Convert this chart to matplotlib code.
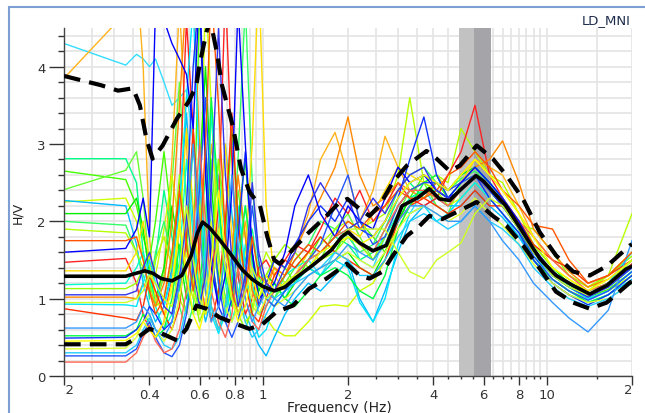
import numpy as np
import matplotlib.pyplot as plt
from matplotlib.patches import Rectangle
from matplotlib.transforms import Bbox, TransformedBbox

# frequency grid of the window curves (Hz)
freq = [0.20, 0.33, 0.36, 0.38, 0.40, 0.42, 0.45, 0.48, 0.51, 0.54, 0.57, 0.60, 0.63, 0.66, 0.70, 0.74,
        0.78, 0.82, 0.87, 0.92, 0.97, 1.03, 1.10, 1.20, 1.30, 1.45, 1.60, 1.80, 2.00, 2.20, 2.45, 2.70,
        3.00, 3.30, 3.70, 4.10, 4.50, 5.00, 5.60, 6.30, 7.00, 8.00, 9.00, 10.5, 12.0, 14.0, 16.5, 20.0]

w1 = [4.30, 4.02,
      4.16, 4.10, 4.00, 4.10, 3.80, 3.50, 3.60, 3.70, 3.00, 2.00, 1.40, 1.90, 2.60, 1.80, 1.20, 1.60, 2.20, 1.40, 1.00,
      0.90, 1.20, 1.00, 1.30, 1.50, 1.30, 1.60, 1.90, 1.50, 1.40, 1.80, 2.20, 2.10, 2.40, 2.20, 2.10,
      2.30, 2.50, 2.30, 2.10, 1.80, 1.50, 1.25, 1.10, 0.98, 1.10, 1.35]
w2 = [3.85, 4.70,
      5.20, 4.00, 1.80, 0.90, 1.40, 2.80, 4.80, 3.00, 1.20, 0.80, 1.60, 3.00, 2.20, 1.30, 0.90, 1.40, 2.00, 1.30, 0.90,
      1.10, 1.40, 1.30, 1.60, 2.10, 2.80, 3.15, 2.60, 2.00, 2.40, 3.10, 2.70, 2.40, 2.50, 2.60, 2.40,
      2.60, 2.80, 2.70, 2.60, 2.20, 1.80, 1.50, 1.30, 1.15, 1.30, 1.60]
w3 = [2.81, 2.81,
      2.50, 1.60, 1.00, 1.50, 2.40, 1.80, 1.10, 1.60, 3.00, 2.20, 1.30, 1.80, 2.80, 1.90, 1.20, 1.00, 1.50, 1.90, 1.30,
      1.00, 0.90, 1.10, 1.30, 1.40, 1.60, 1.80, 1.70, 1.50, 1.60, 1.90, 2.30, 2.50, 2.30, 2.40, 2.30,
      2.50, 2.70, 2.50, 2.30, 2.00, 1.65, 1.35, 1.20, 1.05, 1.15, 1.40]
w4 = [2.65, 2.54,
      2.20, 1.80, 1.50, 2.00, 2.90, 2.00, 1.20, 0.80, 1.40, 4.80, 3.00, 1.50, 1.00, 1.80, 3.20, 2.00, 1.20, 0.90, 1.10,
      1.30, 1.50, 1.40, 1.20, 1.50, 1.80, 1.60, 1.90, 2.00, 1.80, 1.60, 2.00, 2.30, 2.60, 2.50, 2.30,
      2.40, 2.60, 2.40, 2.20, 1.90, 1.60, 1.30, 1.15, 1.02, 1.12, 1.35]
w5 = [2.41, 2.66,
      2.90, 2.30, 1.40, 0.90, 1.30, 2.50, 3.80, 2.20, 1.20, 0.80, 1.50, 2.80, 1.60, 1.00, 1.30, 2.40, 1.80, 1.10, 1.00,
      1.20, 1.00, 1.20, 1.40, 1.60, 1.50, 1.90, 2.10, 1.80, 1.50, 1.70, 2.10, 2.40, 2.50, 2.20, 2.10,
      2.50, 2.60, 2.40, 2.20, 1.95, 1.60, 1.32, 1.18, 1.05, 1.20, 1.45]
w6 = [2.25, 2.30,
      2.00, 1.50, 1.10, 1.30, 1.90, 2.60, 1.90, 1.30, 1.00, 1.80, 5.00, 3.50, 1.40, 0.80, 1.10, 1.70, 1.30, 0.90, 0.80,
      0.75, 0.60, 0.52, 0.52, 0.70, 0.90, 0.92, 0.90, 1.10, 1.20, 1.50, 1.90, 2.20, 2.40, 2.30, 2.20,
      2.30, 2.50, 2.30, 2.10, 1.85, 1.50, 1.25, 1.10, 1.00, 1.10, 1.30]
w7 = [2.27, 2.20,
      1.70, 1.20, 0.90, 0.70, 0.90, 1.40, 2.20, 3.40, 2.00, 1.10, 0.70, 1.00, 1.90, 3.00, 2.10, 1.30, 0.80, 0.60, 0.40,
      0.26, 0.50, 0.80, 1.00, 1.20, 1.10, 1.30, 1.50, 1.00, 0.70, 1.10, 1.60, 2.00, 2.20, 2.30, 2.20,
      2.20, 2.40, 2.20, 2.05, 1.80, 1.50, 1.20, 1.05, 0.95, 1.05, 1.25]
w8 = [2.10, 2.10,
      2.30, 1.90, 1.30, 1.00, 1.40, 2.20, 1.60, 1.00, 1.30, 2.60, 4.00, 2.50, 1.30, 0.90, 1.20, 2.00, 2.80, 1.60, 1.10,
      1.30, 1.20, 1.00, 1.20, 1.40, 1.30, 1.50, 1.60, 1.40, 1.30, 1.60, 2.00, 2.30, 2.40, 2.50, 2.40,
      2.60, 2.70, 2.50, 2.30, 2.00, 1.70, 1.40, 1.20, 1.10, 1.20, 1.50]
w9 = [2.00, 1.95,
      1.60, 1.30, 1.10, 1.60, 2.00, 1.50, 0.90, 0.60, 0.90, 1.70, 2.60, 1.90, 1.20, 0.90, 1.50, 2.80, 4.80, 2.50, 1.40,
      1.20, 1.00, 1.30, 1.50, 1.70, 2.00, 1.90, 1.80, 1.60, 1.70, 2.00, 2.40, 2.60, 2.70, 2.50, 2.40,
      2.55, 2.65, 2.45, 2.25, 1.95, 1.62, 1.32, 1.18, 1.05, 1.15, 1.40]
w10 = [1.90, 1.85,
       1.60, 1.40, 1.20, 1.50, 1.80, 1.40, 1.00, 0.80, 1.20, 2.20, 1.60, 0.90, 0.60, 0.80, 1.40, 1.00, 0.70, 0.80, 1.30,
       1.60, 1.40, 1.20, 1.30, 1.50, 1.70, 1.90, 2.00, 1.90, 2.00, 2.10, 2.60, 3.60, 2.50, 2.60, 2.50,
       3.20, 2.90, 2.60, 2.50, 2.10, 1.70, 1.40, 1.25, 1.10, 1.30, 2.10]
w11 = [1.47, 1.52,
       1.20, 0.80, 0.60, 0.50, 0.70, 1.30, 2.40, 4.60, 3.20, 1.40, 0.80, 1.20, 2.20, 5.00, 2.80, 1.30, 0.80, 1.00, 1.40,
       1.50, 1.30, 1.50, 1.70, 1.60, 1.90, 2.30, 2.10, 2.40, 2.00, 2.20, 2.50, 2.30, 2.20, 2.30, 2.60,
       2.90, 3.50, 2.60, 2.30, 2.00, 1.65, 1.35, 1.20, 1.05, 1.20, 1.45]
w12 = [1.36, 1.36,
       1.60, 2.00, 1.50, 1.00, 0.80, 1.10, 1.90, 3.20, 2.20, 1.20, 0.80, 1.10, 1.80, 3.00, 1.80, 1.00, 1.60, 3.00, 5.20,
       2.20, 1.30, 1.10, 1.30, 1.60, 1.50, 1.70, 1.90, 1.80, 2.10, 2.40, 2.70, 2.60, 2.50, 2.40, 2.30,
       2.50, 2.80, 2.60, 2.40, 2.10, 1.80, 1.50, 1.30, 1.15, 1.30, 1.60]
w13 = [1.18, 1.20,
       1.40, 1.60, 1.30, 0.90, 0.60, 0.80, 1.50, 2.80, 1.80, 1.00, 1.60, 3.40, 2.20, 1.20, 0.70, 1.00, 1.70, 1.20, 0.80,
       0.90, 1.10, 1.30, 1.40, 1.50, 1.60, 1.80, 1.90, 1.70, 1.60, 1.80, 2.10, 2.30, 2.40, 2.40, 2.30,
       2.50, 2.70, 2.50, 2.30, 1.95, 1.60, 1.30, 1.15, 1.00, 1.10, 1.35]
w14 = [1.13, 1.13,
       1.20, 1.40, 1.20, 0.90, 1.00, 1.50, 2.60, 1.80, 1.10, 0.70, 0.90, 1.60, 2.80, 1.90, 1.20, 0.80, 0.60, 0.90, 1.20,
       1.30, 1.50, 1.70, 1.60, 1.40, 1.50, 1.60, 1.80, 1.70, 1.50, 1.80, 2.20, 2.40, 2.50, 2.40, 2.20,
       2.40, 2.60, 2.40, 2.20, 1.95, 1.90, 1.60, 1.30, 1.15, 1.30, 1.55]
w15 = [1.02, 1.02,
       1.00, 1.20, 1.10, 0.90, 1.20, 2.00, 3.50, 5.00, 5.00, 3.00, 1.60, 0.90, 0.60, 0.90, 1.60, 2.60, 1.80, 1.10, 0.90,
       1.20, 1.40, 1.30, 1.60, 2.00, 2.30, 2.70, 3.35, 2.60, 2.20, 2.30, 2.50, 2.40, 2.30, 2.50, 2.40,
       2.50, 2.70, 2.80, 3.04, 2.50, 1.90, 1.60, 1.35, 1.15, 1.25, 1.50]
w16 = [0.93, 0.92,
       0.90, 1.20, 1.50, 1.20, 0.90, 1.30, 2.20, 3.60, 4.80, 2.60, 1.30, 0.80, 0.55, 0.80, 1.30, 2.20, 1.40, 0.80, 0.50,
       0.60, 0.90, 1.10, 1.20, 1.40, 1.30, 1.50, 1.40, 0.95, 0.70, 1.00, 1.70, 2.10, 2.20, 2.00, 2.10,
       2.30, 2.50, 2.30, 2.10, 1.85, 1.55, 1.30, 1.15, 1.00, 1.20, 1.60]
w17 = [0.87, 0.75,
       0.72, 0.90, 1.30, 1.10, 0.80, 0.60, 0.90, 1.80, 3.20, 1.90, 1.10, 0.70, 1.10, 2.00, 3.40, 2.00, 1.20, 0.80, 0.70,
       1.00, 1.30, 1.50, 1.40, 1.60, 1.80, 1.60, 1.50, 1.40, 1.30, 1.50, 2.00, 2.20, 2.30, 2.20, 2.10,
       2.20, 2.40, 2.20, 2.20, 2.00, 1.70, 1.50, 1.40, 1.20, 1.30, 1.50]
w18 = [0.52, 0.52,
       0.60, 0.80, 0.70, 0.50, 0.60, 1.00, 1.70, 1.20, 0.80, 1.10, 2.00, 3.60, 2.30, 1.30, 0.90, 1.40, 2.20, 1.50, 1.00,
       1.10, 1.20, 1.00, 0.90, 1.10, 1.30, 1.40, 1.30, 1.10, 1.00, 1.30, 1.90, 2.20, 2.50, 2.60, 2.30,
       2.40, 2.60, 2.40, 2.20, 1.90, 1.50, 1.25, 1.10, 0.95, 1.05, 1.30]
w19 = [0.49, 0.50,
       0.60, 0.70, 0.90, 0.80, 0.60, 0.70, 1.20, 2.20, 4.00, 5.00, 3.00, 1.60, 0.90, 0.70, 1.00, 1.80, 2.90, 1.60, 0.90,
       1.20, 1.50, 1.40, 1.70, 2.00, 2.20, 2.00, 2.30, 1.90, 1.80, 2.00, 2.30, 2.80, 3.35, 2.60, 2.30,
       2.40, 2.60, 2.30, 2.10, 1.85, 1.50, 1.20, 1.05, 0.92, 1.05, 1.30]
w20 = [0.35, 0.36,
       0.50, 0.70, 0.80, 0.60, 0.45, 0.60, 1.00, 1.60, 1.10, 0.80, 1.20, 2.00, 1.40, 0.90, 0.70, 0.90, 1.40, 1.00, 0.80,
       1.00, 0.90, 1.00, 1.10, 1.30, 1.40, 1.50, 1.60, 1.50, 1.40, 1.60, 1.90, 2.10, 2.20, 2.10, 2.00,
       2.10, 2.30, 2.10, 1.95, 1.70, 1.45, 1.20, 1.05, 0.95, 1.00, 1.20]
w21 = [0.30, 0.30,
       0.40, 0.60, 0.75, 0.60, 0.40, 0.35, 0.50, 0.90, 1.50, 2.60, 1.60, 0.90, 0.60, 0.90, 1.60, 1.10, 0.70, 0.50, 0.60,
       0.80, 1.00, 1.10, 1.20, 1.30, 1.40, 1.60, 1.50, 1.30, 1.30, 1.50, 1.80, 2.00, 2.10, 2.00, 1.90,
       2.00, 2.20, 2.00, 1.90, 1.70, 1.40, 1.15, 1.00, 0.90, 1.00, 1.20]
w22 = [0.26, 0.26,
       0.35, 0.55, 0.70, 0.50, 0.30, 0.25, 0.40, 0.80, 1.40, 2.40, 3.60, 2.20, 1.20, 0.70, 0.50, 0.70, 1.20, 2.20, 1.50,
       1.00, 0.90, 1.10, 1.30, 1.50, 1.70, 2.20, 2.60, 2.00, 1.70, 1.80, 2.20, 2.40, 2.50, 2.50, 2.40,
       2.50, 2.60, 2.40, 2.20, 1.90, 1.55, 1.25, 1.10, 0.98, 1.10, 1.35]
w23 = [0.18, 0.18,
       0.30, 0.50, 0.65, 0.45, 0.30, 0.35, 0.60, 1.10, 1.80, 3.00, 2.00, 1.10, 0.70, 0.50, 0.80, 1.40, 1.00, 0.70, 0.60,
       0.90, 1.10, 1.20, 1.30, 1.50, 1.60, 1.80, 1.90, 1.70, 1.60, 1.90, 2.20, 2.40, 2.40, 2.30, 2.20,
       2.40, 2.60, 2.40, 2.30, 2.00, 1.80, 1.50, 1.30, 1.10, 1.20, 1.45]
w24 = [1.60, 1.65,
       1.90, 2.30, 1.80, 4.80, 4.60, 4.30, 4.10, 3.90, 3.20, 5.00, 2.60, 1.40, 0.90, 1.30, 2.40, 4.80, 3.00, 1.60, 1.00,
       1.10, 1.20, 1.60, 2.20, 2.60, 2.10, 1.80, 2.20, 2.00, 1.90, 2.30, 2.70, 2.50, 2.60, 2.40, 2.30,
       2.50, 2.70, 2.50, 2.30, 2.00, 1.65, 1.35, 1.20, 1.05, 1.20, 1.40]
w25 = [0.62, 0.62,
       0.70, 0.90, 0.80, 0.60, 0.50, 0.70, 1.20, 2.00, 3.00, 1.90, 1.10, 0.70, 0.90, 1.60, 2.60, 1.70, 1.00, 0.70, 0.90,
       1.10, 1.00, 0.90, 1.10, 1.30, 1.40, 1.50, 1.70, 1.60, 1.50, 1.70, 2.00, 2.20, 2.20, 2.10, 2.00,
       2.00, 2.20, 2.00, 1.75, 1.50, 1.20, 0.95, 0.75, 0.57, 0.85, 1.75]
w26 = [1.75, 1.75,
       1.80, 1.50, 1.10, 0.80, 1.00, 1.60, 2.40, 1.70, 1.10, 1.60, 3.00, 5.00, 3.50, 1.80, 1.10, 0.80, 1.10, 1.80, 1.30,
       1.20, 1.10, 1.30, 1.50, 1.70, 1.60, 1.80, 2.00, 1.90, 2.10, 2.20, 2.40, 2.30, 2.30, 2.40, 2.60,
       2.70, 2.90, 2.70, 2.40, 2.20, 1.95, 1.90, 1.50, 1.20, 1.30, 1.60]
w27 = [0.45, 0.46,
       0.55, 0.70, 0.60, 0.50, 0.70, 1.20, 2.00, 1.30, 0.80, 0.60, 0.90, 1.50, 2.40, 1.60, 1.00, 0.70, 0.90, 1.30, 1.00,
       1.30, 1.10, 1.20, 1.30, 1.40, 1.60, 1.70, 1.80, 1.70, 1.80, 2.00, 2.30, 2.50, 2.60, 2.50, 2.40,
       2.60, 2.80, 2.60, 2.40, 2.10, 1.80, 1.40, 1.25, 1.10, 1.25, 1.50]
w28 = [1.05, 1.05,
       1.10, 1.40, 1.60, 1.30, 0.90, 0.80, 1.30, 2.10, 1.40, 0.90, 1.30, 2.40, 4.50, 2.60, 1.50, 0.90, 1.30, 2.50, 1.60,
       1.20, 1.10, 1.40, 1.60, 2.20, 2.50, 2.20, 1.90, 2.00, 2.30, 2.10, 2.40, 2.60, 2.70, 2.40, 2.30,
       2.40, 2.60, 2.40, 2.20, 1.90, 1.60, 1.30, 1.15, 1.02, 1.15, 1.40]
w29 = [0.95, 0.95,
       1.00, 1.10, 1.30, 1.20, 1.00, 0.90, 1.40, 2.20, 1.50, 1.00, 0.80, 1.10, 1.90, 1.40, 1.00, 0.80, 1.10, 1.40, 1.20,
       1.00, 1.10, 1.20, 1.30, 1.40, 1.50, 1.70, 1.90, 1.90, 1.90, 1.90, 1.60, 1.35, 1.26, 1.50, 1.60,
       1.72, 2.10, 2.30, 2.20, 1.90, 1.60, 1.30, 1.15, 1.05, 1.20, 1.50]

windows = [w1, w2, w3, w4, w5, w6, w7, w8, w9, w10, w11, w12, w13, w14, w15,
           w16, w17, w18, w19, w20, w21, w22, w23, w24, w25, w26, w27, w28, w29]
win_colors = ['#33ddff', '#ffb31a', '#00ff88', '#44ff00', '#66ff33', '#ccff00', '#00bbff', '#00ee00',
              '#33ff66', '#b5ff00', '#ff2222', '#ffdd00', '#00ffcc', '#99ff00', '#ff8800', '#00e5ff',
              '#ff3300', '#00ff44', '#1133ff', '#ddff33', '#22ccff', '#2255ff', '#ff6655', '#0000ff',
              '#3399ff', '#ff5500', '#ffff00', '#3333ee', '#ccff22']

# average H/V curve
mean_f = [0.20, 0.33, 0.36, 0.385, 0.41, 0.44, 0.48, 0.52, 0.56, 0.59, 0.615, 0.65, 0.70, 0.75, 0.80,
          0.85, 0.92, 1.00, 1.10, 1.20, 1.30, 1.50, 1.75, 1.90, 2.00, 2.20, 2.45, 2.73, 3.10, 3.50,
          3.87, 4.20, 4.56, 4.95, 5.65, 6.00, 6.50, 7.20, 8.25, 9.50, 10.8, 12.4, 14.2, 16.3, 19.0, 20.0]
mean_v = [1.29, 1.29, 1.33, 1.36, 1.33, 1.26, 1.23, 1.30, 1.55, 1.85, 1.99, 1.92, 1.78, 1.64, 1.50,
          1.37, 1.25, 1.16, 1.10, 1.15, 1.26, 1.43, 1.63, 1.80, 1.86, 1.72, 1.62, 1.69, 2.20, 2.30,
          2.42, 2.29, 2.27, 2.40, 2.59, 2.52, 2.38, 2.20, 1.86, 1.51, 1.30, 1.17, 1.06, 1.17, 1.38, 1.42]

# mean x std
up_f = [0.20, 0.27, 0.31, 0.35, 0.37, 0.39, 0.41, 0.445, 0.50, 0.55, 0.585, 0.60, 0.635, 0.655, 0.69,
        0.72, 0.785, 0.84, 0.90, 0.98, 1.04, 1.10, 1.15, 1.28, 1.46, 1.68, 1.87, 1.99, 2.20, 2.38,
        2.58, 2.88, 3.22, 3.78, 4.10, 4.56, 4.95, 5.68, 6.47, 7.24, 8.26, 9.46, 10.8, 12.4, 14.2, 16.3, 19.7, 20.0]
up_v = [3.88, 3.76, 3.69, 3.72, 3.50, 3.07, 2.81, 2.98, 3.33, 3.55, 3.76, 4.02, 4.45, 4.60, 4.19,
        3.76, 3.24, 2.68, 2.38, 2.20, 1.80, 1.50, 1.45, 1.64, 1.86, 2.07, 2.25, 2.29, 2.16, 2.07,
        2.20, 2.51, 2.72, 2.91, 2.81, 2.65, 2.72, 2.98, 2.81, 2.59, 2.29, 1.86, 1.56, 1.35, 1.30, 1.42, 1.69, 1.70]

# mean / std
lo_f = [0.20, 0.33, 0.37, 0.40, 0.43, 0.50, 0.54, 0.585, 0.635, 0.705, 0.81, 0.90, 1.00, 1.12, 1.28,
        1.46, 1.68, 1.98, 2.20, 2.38, 2.65, 2.88, 3.22, 3.57, 3.87, 4.30, 4.95, 5.68, 6.47, 7.24,
        8.26, 9.46, 10.8, 12.4, 14.2, 16.3, 19.7, 20.0]
lo_v = [0.41, 0.41, 0.52, 0.61, 0.57, 0.46, 0.61, 0.91, 0.87, 0.76, 0.67, 0.61, 0.67, 0.83, 0.91,
        1.13, 1.26, 1.45, 1.30, 1.26, 1.35, 1.56, 1.81, 1.94, 2.07, 2.03, 2.14, 2.25, 2.07, 1.94,
        1.69, 1.39, 1.09, 0.95, 0.87, 0.95, 1.21, 1.22]

# peak frequency band
f0_lo, f0, f0_hi = 4.92, 5.56, 6.36

fig = plt.figure(figsize=(6.45, 4.14), dpi=100)
ax = fig.add_axes([64/645, 1-377/414, 568/645, 348/414])

ax.axvspan(f0_lo, f0, color='#c2c2c2', lw=0, zorder=1)
ax.axvspan(f0, f0_hi, color='#a4a4a9', lw=0, zorder=1)

for w, c in zip(windows, win_colors):
    ax.plot(freq, w, color=c, lw=1.0, zorder=2)

ax.plot(mean_f, mean_v, color='black', lw=2.6, zorder=4)
ax.plot(up_f, up_v, color='black', lw=3.0, dashes=(4, 2.2), zorder=4)
ax.plot(lo_f, lo_v, color='black', lw=3.0, dashes=(4, 2.2), zorder=4)

ax.set_xscale('log')
ax.set_xlim(0.2, 20)
ax.set_ylim(0, 4.5)

major_x = [0.2, 0.4, 0.6, 0.8, 1, 2, 4, 6, 8, 10, 20]
major_lbl = ['', '0.4', '0.6', '0.8', '1', '2', '4', '6', '8', '10', '']
minor_x = [0.25, 0.3, 0.35, 0.45, 0.5, 0.55, 0.65, 0.7, 0.75, 0.85, 0.9, 0.95,
           1.5, 2.5, 3, 3.5, 4.5, 5, 5.5, 6.5, 7, 7.5, 8.5, 9, 9.5, 15]
ax.set_xticks(major_x)
ax.set_xticklabels(major_lbl)
ax.set_xticks(minor_x, minor=True)
ax.xaxis.set_minor_formatter(plt.NullFormatter())
ax.set_yticks([0, 1, 2, 3, 4])
ax.set_yticks(np.arange(0, 4.5, 0.2), minor=True)

ax.grid(which='both', color='#e4e4e4', lw=1.2)
ax.set_axisbelow(True)
for s in ['top', 'right']:
    ax.spines[s].set_visible(False)
for s in ['left', 'bottom']:
    ax.spines[s].set_color('#444444')
    ax.spines[s].set_linewidth(1.0)

ax.tick_params(axis='x', which='major', length=6.5, width=1, color='#333333', labelsize=9.5, pad=2, labelcolor='#333333')
ax.tick_params(axis='x', which='minor', length=2.5, width=1, color='#333333')
ax.tick_params(axis='y', which='major', length=11, width=1, color='#333333', labelsize=9.5, pad=2, labelcolor='#333333')
ax.tick_params(axis='y', which='minor', length=4.3, width=1, color='#333333')

# end labels, clipped at the plot edges as in the original widget
clip = TransformedBbox(Bbox.from_extents(64/645, 0, 632/645, 1), fig.transFigure)
for xp, s in [(64, '0.2'), (632, '20')]:
    t = fig.text(xp/645, 1-391/414, s, ha='center', va='center', fontsize=9.5, color='#333333')
    t.set_clip_box(clip)
    t.set_clip_on(True)

fig.text(18/645, 1-213/414, 'H/V', rotation=90, ha='center', va='center', fontsize=9, color='#222222')
fig.text(339/645, 1-401/414, 'Frequency (Hz)', ha='center', va='top', fontsize=10, color='#222222')
fig.text(631/645, 1-21/414, 'LD_MNI', ha='right', va='center', fontsize=9.5, color='#1f2d4d')

fig.add_artist(Rectangle((9/645, -0.05), 1.1, (414-8)/414+0.05, transform=fig.transFigure,
                         fill=False, ec='#7d9fd3', lw=1.5, clip_on=False))

fig.savefig('out.png', dpi=100)
